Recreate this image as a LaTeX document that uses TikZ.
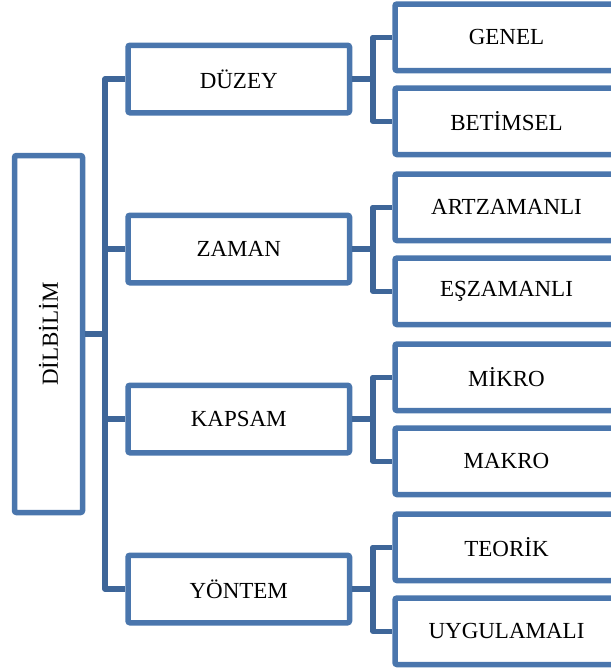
\documentclass[tikz,border=0pt]{standalone}
\usepackage{fontspec}
\setmainfont{Liberation Serif}
\definecolor{boxblue}{RGB}{74,118,173}
\definecolor{connblue}{RGB}{62,102,153}
\begin{document}
\begin{tikzpicture}[x=1pt,y=-1pt,
  box/.style={draw=boxblue, line width=5.5pt, rounded corners=2pt, fill=white,
    inner sep=0pt, font=\fontsize{23}{27}\selectfont, text=black},
  midbox/.style={box, minimum width=221.5pt, minimum height=67.5pt},
  rbox/.style={box, minimum width=223pt, minimum height=66.5pt},
  conn/.style={draw=connblue, line width=5.5pt, line join=round}]
\useasboundingbox (0,0) rectangle (611,670);
\clip (0,0) rectangle (611,670);
\coordinate (t) at (105,334);
\coordinate (b) at (373,0);
% left box
\node[box, minimum width=68pt, minimum height=357pt] (L) at (48.5,334) {};
\node[rotate=90, font=\fontsize{23}{27}\selectfont, inner sep=0pt] (Lt) at (L.center) {DİLBİLİM};
% middle boxes
\node[midbox] (M1) at (238.75,79) {DÜZEY};
\node[midbox] (M2) at (238.75,249) {ZAMAN};
\node[midbox] (M3) at (238.75,419) {KAPSAM};
\node[midbox] (M4) at (238.75,589) {YÖNTEM};
% right boxes
\node[rbox] (R1) at (506.5,37.25) {GENEL};
\node[rbox] (R2) at (506.5,121.25) {BETİMSEL};
\node[rbox] (R3) at (506.5,207.25) {ARTZAMANLI};
\node[rbox] (R4) at (506.5,291.25) {EŞZAMANLI};
\node[rbox] (R5) at (506.5,377.25) {MİKRO};
\node[rbox] (R6) at (506.5,461.25) {MAKRO};
\node[rbox] (R7) at (506.5,547.25) {TEORİK};
\node[rbox] (R8) at (506.5,631.25) {UYGULAMALI};
% trunk connectors
\draw[conn] (L.east) -- (t);
\draw[conn] (M1.west) -- (M1.west -| t) -- (M4.west -| t) -- (M4.west);
\draw[conn] (M2.west) -- (M2.west -| t);
\draw[conn] (M3.west) -- (M3.west -| t);
% branch connectors
\foreach \m/\a/\c in {M1/R1/R2, M2/R3/R4, M3/R5/R6, M4/R7/R8}{
  \draw[conn] (\m.east) -- (\m.east -| b);
  \draw[conn] (\a.west) -- (\a.west -| b) -- (\c.west -| b) -- (\c.west);
}
\end{tikzpicture}
\end{document}
